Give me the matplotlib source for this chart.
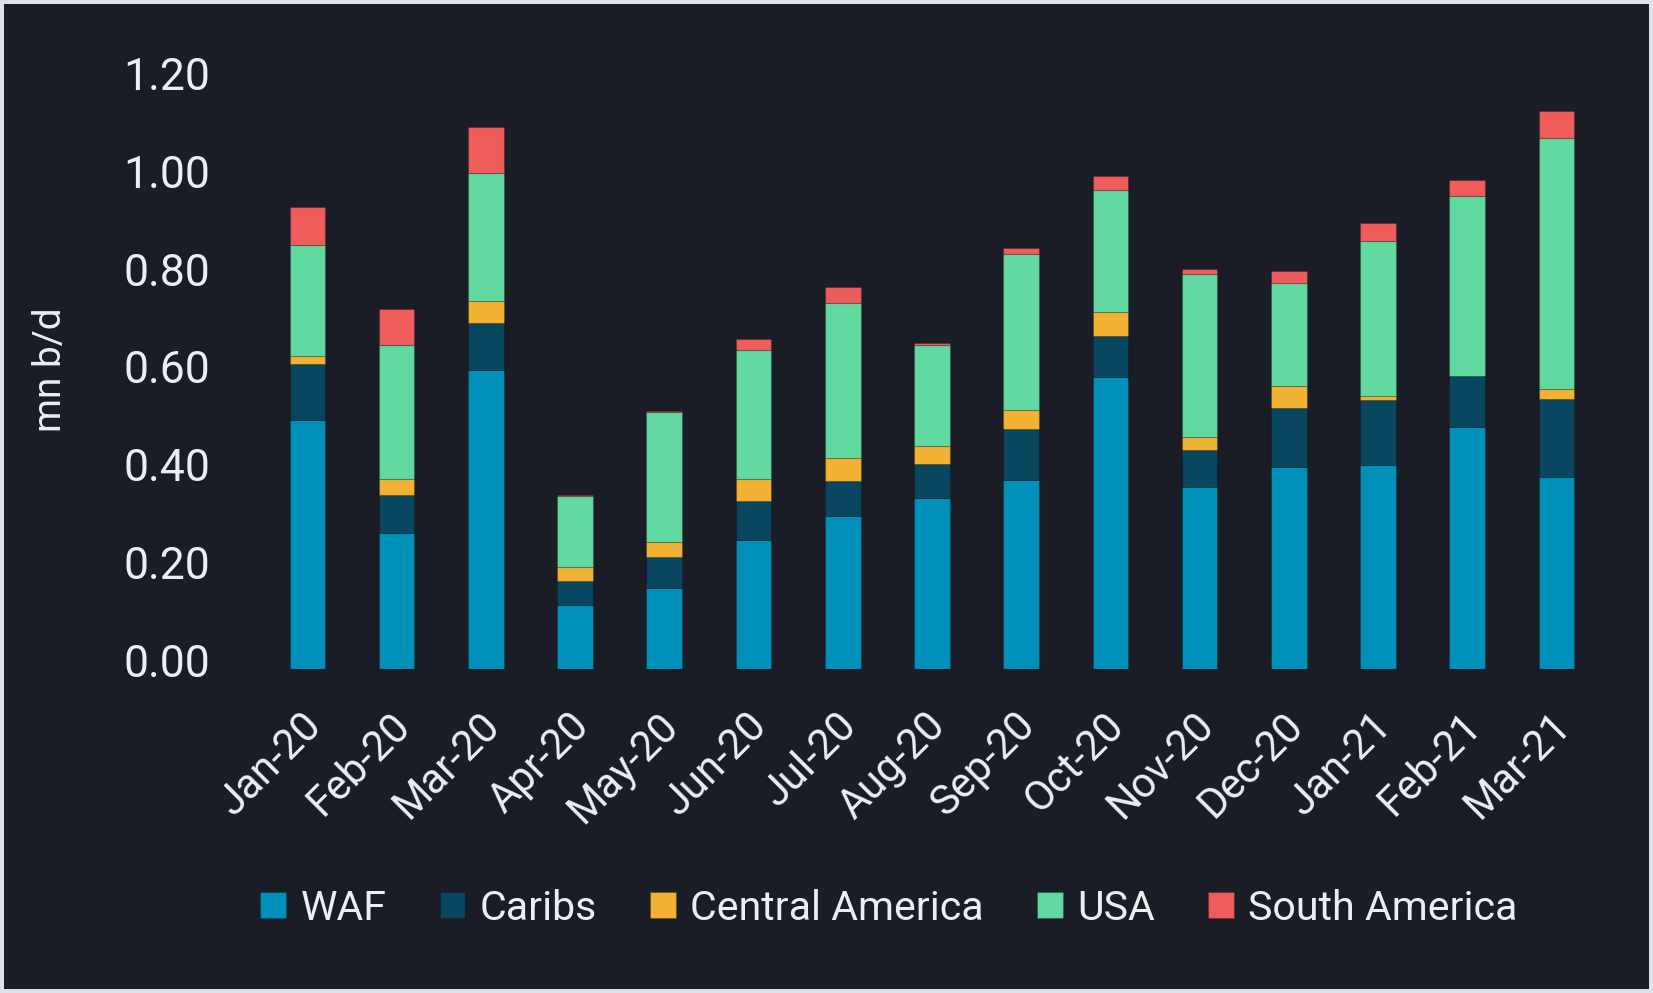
import numpy as np
import matplotlib.pyplot as plt
import matplotlib.transforms as mtransforms

# dane (mn b/d)
months = ["Jan-20", "Feb-20", "Mar-20", "Apr-20", "May-20", "Jun-20", "Jul-20", "Aug-20",
          "Sep-20", "Oct-20", "Nov-20", "Dec-20", "Jan-21", "Feb-21", "Mar-21"]
waf = [0.508, 0.277, 0.611, 0.131, 0.164, 0.263, 0.312, 0.349, 0.386, 0.597, 0.371, 0.412, 0.416, 0.494, 0.391]
caribs = [0.115, 0.078, 0.096, 0.049, 0.064, 0.080, 0.072, 0.069, 0.104, 0.084, 0.077, 0.121, 0.133, 0.105, 0.160]
central_america = [0.016, 0.032, 0.045, 0.027, 0.030, 0.044, 0.047, 0.037, 0.039, 0.049, 0.026, 0.045, 0.008, 0.000, 0.021]
usa = [0.228, 0.275, 0.262, 0.146, 0.266, 0.265, 0.316, 0.208, 0.319, 0.250, 0.333, 0.210, 0.318, 0.368, 0.514]
south_america = [0.078, 0.074, 0.093, 0.002, 0.003, 0.022, 0.034, 0.003, 0.013, 0.027, 0.011, 0.026, 0.037, 0.033, 0.055]
yticks = [0.0, 0.2, 0.4, 0.6, 0.8, 1.0, 1.2]

series = [("WAF", waf, "#0090b9"),
          ("Caribs", caribs, "#09465f"),
          ("Central America", central_america, "#f2b233"),
          ("USA", usa, "#62d9a0"),
          ("South America", south_america, "#ee5c5c")]

bg = "#1a1d26"
fg = "#eceef2"
plt.rcParams['font.family'] = ['Roboto', 'DejaVu Sans']

fig = plt.figure(figsize=(16.53, 9.93), dpi=100)
fig.patch.set_facecolor(bg)
fig.patch.set_edgecolor("#dde1e8")
fig.patch.set_linewidth(4.5)

ax = fig.add_axes([0.1482, 0.3267, 0.8312, 0.5907])
ax.set_facecolor(bg)

x = np.arange(len(months))
bottom = np.zeros(len(months))
for name, vals, col in series:
    vals = np.array(vals)
    ax.bar(x, vals, width=0.4, bottom=bottom, color=col, label=name,
           edgecolor=(0, 0, 0, 0.18), linewidth=0.8)
    bottom += vals

ax.set_xlim(-0.7, len(months) - 0.3)
ax.set_ylim(0, 1.2)
ax.set_yticks(yticks)
ax.set_yticklabels([f"{v:.2f}" for v in yticks])
ax.set_xticks(x)
ax.set_xticklabels(months, rotation=45, ha='right', va='top', rotation_mode='anchor')

for s in ax.spines.values():
    s.set_visible(False)
ax.tick_params(axis='y', length=0, pad=25, labelsize=32, labelcolor=fg)
ax.tick_params(axis='x', length=0, pad=26, labelsize=30, labelcolor=fg)

# przesunięcie etykiet osi
up = mtransforms.ScaledTranslation(0, 6 / 72, fig.dpi_scale_trans)
for lab in ax.get_yticklabels():
    lab.set_transform(lab.get_transform() + up)
left = mtransforms.ScaledTranslation(-5 / 72, 0, fig.dpi_scale_trans)
for lab in ax.get_xticklabels():
    lab.set_transform(lab.get_transform() + left)

ax.set_ylabel("mn b/d", fontsize=28, color=fg)
ax.yaxis.set_label_coords(-0.128, 0.51)

fig.legend(loc='center', bbox_to_anchor=(889 / 1653, 1 - 908 / 993), ncol=5,
           frameon=False, fontsize=29.6, labelcolor=fg, handlelength=0.62,
           handleheight=0.62, handletextpad=0.35, columnspacing=1.3)

fig.savefig("out.png", dpi=100, facecolor=fig.get_facecolor(), edgecolor=fig.get_edgecolor())
